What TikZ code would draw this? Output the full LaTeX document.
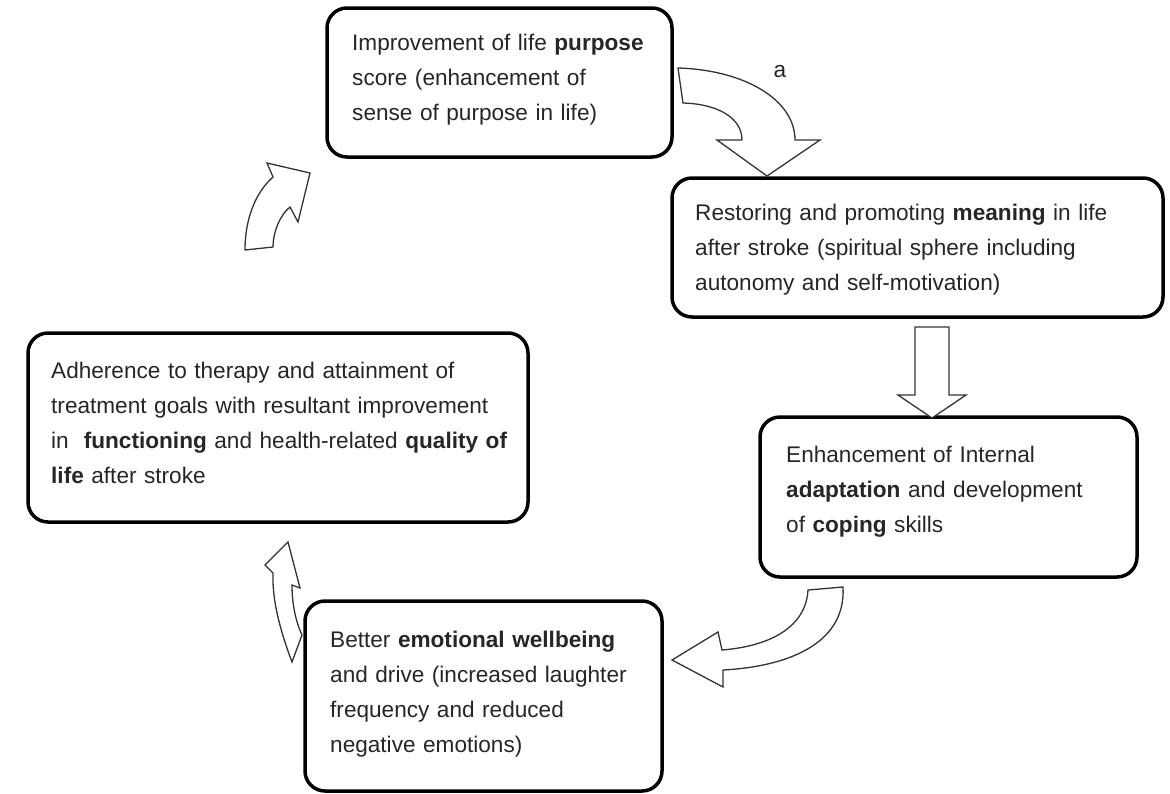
\documentclass[tikz,border=0pt]{standalone}
\usepackage{fontspec}
\setmainfont{Liberation Sans}
\begin{document}
\begin{tikzpicture}[x=1pt,y=-1pt,
  box/.style={draw=black, line width=3.5pt, rounded corners=20pt, fill=white, inner sep=0pt},
  txt/.style={anchor=base west, inner sep=0pt, text width=#1, align=left, text=black!85,
    font=\fontsize{22.6}{35}\selectfont},
  barrow/.style={draw=black!80, line width=1.3pt, fill=white, line join=miter}]
\useasboundingbox (0,0) rectangle (1170,793);
% boxes
\node[box, minimum width=345pt, minimum height=149pt] (b1) at (499.5,82.5) {};
\node[box, minimum width=491pt, minimum height=139pt] (b2) at (917.5,247.5) {};
\node[box, minimum width=500pt, minimum height=189pt] (b3) at (278,427.5) {};
\node[box, minimum width=377pt, minimum height=160pt] (b4) at (948.5,497) {};
\node[box, minimum width=357pt, minimum height=190pt] (b5) at (483.5,696) {};
% texts
\node[txt=315pt] (t1) at (352,50) {Improvement of life \textbf{purpose}\\ score (enhancement of\\ sense of purpose in life)};
\node[txt=465pt] (t2) at (695,220) {Restoring and promoting \textbf{meaning} in life\\ after stroke (spiritual sphere including\\ autonomy and self-motivation)};
\node[txt=475pt] (t3) at (51,378) {Adherence to therapy and attainment of\\ treatment goals with resultant improvement\\ in\ \ \textbf{functioning} and health-related \textbf{quality of}\\ \textbf{life} after stroke};
\node[txt=345pt] (t4) at (786,462) {Enhancement of Internal\\ \textbf{adaptation} and development\\ of \textbf{coping} skills};
\node[txt=325pt] (t5) at (330,647) {Better \textbf{emotional wellbeing}\\ and drive (increased laughter\\ frequency and reduced\\ negative emotions)};
% label a
\node[inner sep=0pt, text=black!85, font=\fontsize{22.6}{26}\selectfont] (la) at (780,72) {a};
% arrow 1: b1 -> b2 (curved, label a)
\draw[barrow] (678,68) .. controls (745,70) and (795,100) .. (795,140)
  -- (820,140) -- (767,176) -- (717,140) -- (742,140)
  .. controls (742,118) and (718,104) .. (683,103) -- cycle;
% arrow 2: b2 -> b4 (straight down)
\draw[barrow] (915,327) -- (949,327) -- (949,395) -- (966,395) -- (932,418)
  -- (898,395) -- (915,395) -- cycle;
% arrow 3: b4 -> b5 (curved left)
\draw[barrow] (843,587) .. controls (846,640) and (795,666) .. (723,670)
  -- (723,687) -- (672,660) -- (718,632) -- (722,650)
  .. controls (772,646) and (806,626) .. (808,590) -- cycle;
% arrow 4: b5 -> b3 (up)
\draw[barrow] (292,662) .. controls (280,630) and (272,600) .. (273,573)
  -- (265,565) -- (288,542) -- (300,588) -- (292,585)
  .. controls (292,605) and (296,622) .. (302,635) -- cycle;
% arrow 5: b3 -> b1 (curved up-right)
\draw[barrow] (245,250) .. controls (245,218) and (256,192) .. (273,177)
  -- (267,163) -- (310,173) -- (298,222) -- (290,207)
  .. controls (280,215) and (273,232) .. (273,247) -- cycle;
\end{tikzpicture}
\end{document}
